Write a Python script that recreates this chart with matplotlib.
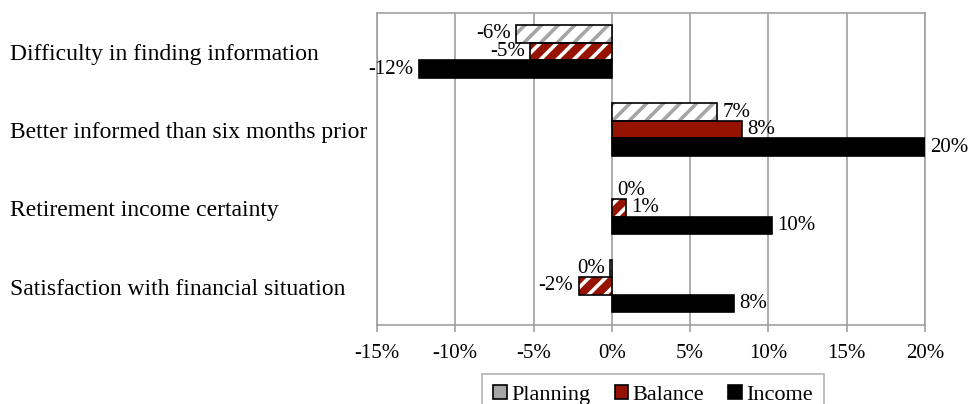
import matplotlib
matplotlib.use("Agg")
import matplotlib.pyplot as plt
from matplotlib.patches import Patch
from matplotlib.transforms import blended_transform_factory
import numpy as np

plt.rcParams['font.family'] = ['Liberation Serif', 'DejaVu Serif']
plt.rcParams['hatch.linewidth'] = 2.6

categories = [
    "Difficulty in finding information",
    "Better informed than six months prior",
    "Retirement income certainty",
    "Satisfaction with financial situation",
]
planning = [-6.1, 6.7, 0.0, -0.1]
balance = [-5.2, 8.3, 0.9, -2.1]
income = [-12.3, 20.0, 10.2, 7.8]
balance_hatched = [True, False, True, True]
series_names = ["Planning", "Balance", "Income"]
x_ticks = [-15, -10, -5, 0, 5, 10, 15, 20]
x_tick_labels = ["-15%", "-10%", "-5%", "0%", "5%", "10%", "15%", "20%"]

RED = "#961300"
GREY = "#a6a6a6"
GRID = "#a0a0a0"

fig = plt.figure(figsize=(9.69, 4.04), dpi=100)
ax = fig.add_axes([377 / 969, 1 - 325 / 404, (925 - 377) / 969, (325 - 12.5) / 404])

y = np.arange(len(categories))
h = 0.225
offsets = [-h, 0.0, h]


def bar_row(values, off, face, hatch_flags, hatch_color):
    for yi, v, hatched in zip(y, values, hatch_flags):
        yy = yi + off
        if hatched:
            ax.barh(yy, v, height=h, left=0, color=face, edgecolor=hatch_color,
                    hatch="//", linewidth=0, zorder=3)
        else:
            ax.barh(yy, v, height=h, left=0, color=face, linewidth=0, zorder=3)
        # outline
        ax.barh(yy, v, height=h, left=0, fill=False, edgecolor="black",
                linewidth=0 if v == 0 else 1.2, zorder=4)


bar_row(planning, offsets[0], "white", [True] * len(planning), GREY)
bar_row(balance, offsets[1], RED, balance_hatched, "white")
bar_row(income, offsets[2], "black", [False] * len(income), "black")

# value labels
for values, off in zip([planning, balance, income], offsets):
    for yi, v in zip(y, values):
        r = int(round(v))
        txt = f"{r}%"
        neg = v < 0
        ax.annotate(txt, xy=(v, yi + off), xytext=(-4 if neg else 4, 0),
                    textcoords="offset points", ha="right" if neg else "left",
                    va="center", fontsize=15, color="black", zorder=5,
                    annotation_clip=False)

ax.set_xlim(-15, 20)
ax.set_ylim(len(categories) - 0.5, -0.5)
ax.set_xticks(x_ticks)
ax.set_xticklabels(x_tick_labels, fontsize=15)
ax.set_yticks([])
ax.tick_params(axis="x", direction="out", length=5, color=GRID, width=1.2, pad=9)
ax.grid(axis="x", color=GRID, linewidth=1.2, zorder=0)
for s in ax.spines.values():
    s.set_color(GRID)
    s.set_linewidth(1.2)

# category labels at the left edge of the figure
trans = blended_transform_factory(fig.transFigure, ax.transData)
for yi, name in zip(y, categories):
    fig.text(10 / 969, yi + 0.04, name, transform=trans, ha="left", va="center",
             fontsize=17)

handles = [
    Patch(facecolor=GREY, edgecolor="black", linewidth=1.2),
    Patch(facecolor=RED, edgecolor="black", linewidth=1.2),
    Patch(facecolor="black", edgecolor="black", linewidth=1.2),
]
leg = fig.legend(handles, series_names, loc="upper center",
                 bbox_to_anchor=(653 / 969, 1 - 374 / 404), ncol=3, fontsize=16,
                 frameon=True, fancybox=False, handlelength=0.6, handleheight=0.6,
                 handletextpad=0.2, columnspacing=1.1, borderpad=0.5,
                 borderaxespad=0)
leg.get_frame().set_edgecolor(GRID)
leg.get_frame().set_linewidth(1.2)

fig.savefig("out.png", dpi=100)
